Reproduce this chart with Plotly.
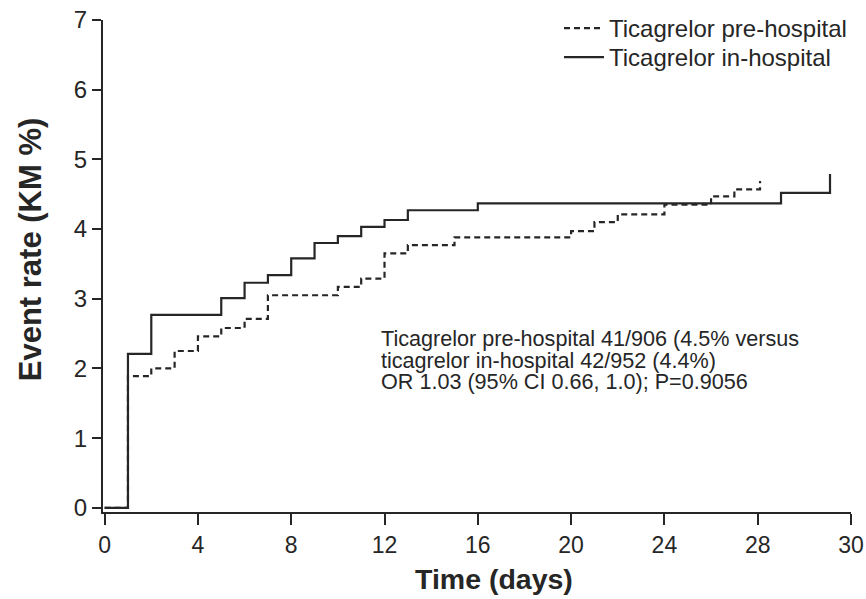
import plotly.graph_objects as go

# Kaplan-Meier step data (axis units; last tick labelled "30")
days_pre = [0, 1, 2, 3, 4, 5, 6, 7, 10, 11, 12, 13, 15, 20, 21, 22, 24, 26, 27, 28.1]
rate_pre = [0, 1.89, 2.0, 2.25, 2.46, 2.58, 2.71, 3.05, 3.17, 3.29, 3.65, 3.77, 3.88, 3.97, 4.10, 4.21, 4.35, 4.47, 4.57, 4.69]

days_in = [0, 1, 2, 5, 6, 7, 8, 9, 10, 11, 12, 13, 16, 29, 31.1]
rate_in = [0, 2.21, 2.77, 3.01, 3.23, 3.34, 3.58, 3.80, 3.90, 4.03, 4.13, 4.27, 4.37, 4.52, 4.79]

x_tickvals = [0, 4, 8, 12, 16, 20, 24, 28, 32]
x_ticktext = ["0", "4", "8", "12", "16", "20", "24", "28", "30"]
y_tickvals = [0, 1, 2, 3, 4, 5, 6, 7]

annotation_lines = [
    "Ticagrelor pre-hospital 41/906 (4.5% versus",
    "ticagrelor in-hospital 42/952 (4.4%)",
    "OR 1.03 (95% CI 0.66, 1.0); P=0.9056",
]
annotation_y = [2.434, 2.118, 1.809]

FONT = "Liberation Sans, Arial, Helvetica, sans-serif"
INK = "#262626"

fig = go.Figure()
fig.add_trace(go.Scatter(
    x=days_pre, y=rate_pre, mode="lines", line_shape="hv",
    name="Ticagrelor pre-hospital", legend="legend",
    line=dict(color=INK, width=2.2, dash="6px,4px"),
))
fig.add_trace(go.Scatter(
    x=days_in, y=rate_in, mode="lines", line_shape="hv",
    name="Ticagrelor in-hospital", legend="legend2",
    line=dict(color=INK, width=2.2),
))

for txt, yy in zip(annotation_lines, annotation_y):
    fig.add_annotation(
        x=11.78, y=yy, xref="x", yref="y", text=txt,
        showarrow=False, xanchor="left", yanchor="middle", align="left",
        font=dict(family=FONT, size=21.6, color=INK),
    )

# axis titles
fig.add_annotation(
    x=-0.0976, y=0.534, xref="paper", yref="paper", text="<b>Event rate (KM %)</b>",
    textangle=-90, showarrow=False, xanchor="center", yanchor="middle",
    font=dict(family=FONT, size=31, color=INK),
)
fig.add_annotation(
    x=0.5227, y=-0.136, xref="paper", yref="paper", text="<b>Time (days)</b>",
    showarrow=False, xanchor="center", yanchor="middle",
    font=dict(family=FONT, size=28.5, color=INK),
)

legend_common = dict(
    xref="container", yref="container", xanchor="left", yanchor="top",
    font=dict(family=FONT, size=24, color=INK),
    bgcolor="rgba(0,0,0,0)", itemwidth=40,
)

fig.update_layout(
    width=866, height=599,
    margin=dict(l=103, r=15, t=20, b=87, autoexpand=False),
    paper_bgcolor="white", plot_bgcolor="white",
    font=dict(family=FONT, color=INK),
    showlegend=True,
    legend=dict(x=0.6455, y=0.990, **legend_common),
    legend2=dict(x=0.6455, y=0.9416, **legend_common),
    xaxis=dict(
        range=[-0.07, 32], tickvals=x_tickvals, ticktext=x_ticktext,
        showline=True, linecolor=INK, linewidth=2.2,
        ticks="outside", ticklen=11, tickwidth=2.2, tickcolor=INK,
        showgrid=False, zeroline=False,
        tickfont=dict(family=FONT, size=23, color=INK),
    ),
    yaxis=dict(
        range=[-0.06, 7], tickvals=y_tickvals,
        showline=True, linecolor=INK, linewidth=2.2,
        ticks="outside", ticklen=9, tickwidth=2.2, tickcolor=INK,
        showgrid=False, zeroline=False,
        tickfont=dict(family=FONT, size=24, color=INK),
    ),
)

fig.write_html("out.html", config={"displayModeBar": False},
               post_script="document.body.style.margin='0';")
